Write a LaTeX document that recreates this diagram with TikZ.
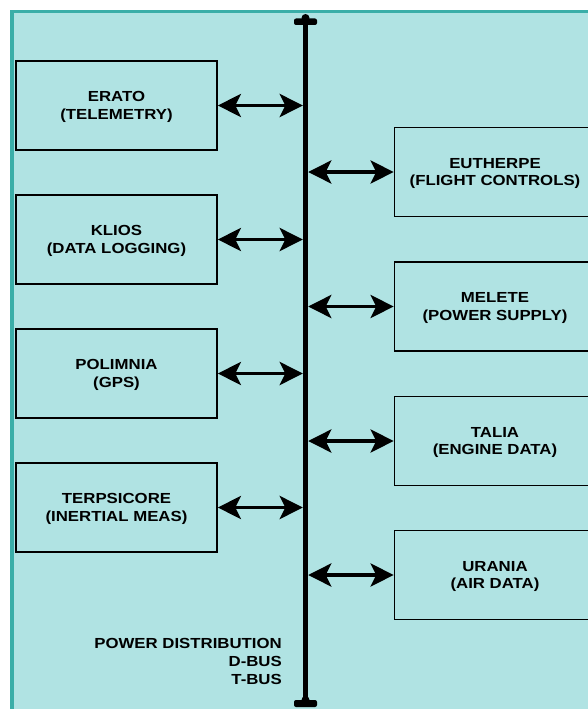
\documentclass[tikz,border=0pt]{standalone}
\usepackage{fontspec}
\setmainfont{Liberation Sans}[FakeStretch=1.15]
\usetikzlibrary{arrows.meta}
\definecolor{panel}{HTML}{B0E3E3}
\definecolor{panelrim}{HTML}{3AAEA8}
\newcommand{\unitfont}{\fontsize{14.6}{17.5}\selectfont\bfseries}
\newcommand{\buslabelfont}{\fontsize{14.6}{18}\selectfont\bfseries}
\tikzset{
  unit/.style={draw=black, line width=1.7pt, fill=panel, minimum width=201pt,
    minimum height=89pt, align=center, font=\unitfont, inner sep=0pt,
    text depth=0pt},
  link/.style={line width=3.8pt,
    {Stealth[length=23pt,width=23pt,inset=5.5pt]}-{Stealth[length=23pt,width=23pt,inset=5.5pt]}},
  busbar/.style={fill=black, draw=none, minimum width=5pt, inner sep=0pt}
}
\begin{document}
\begin{tikzpicture}[x=1pt,y=-1pt]
  \useasboundingbox (0,0) rectangle (588,709);
  \clip (0,0) rectangle (588,709);
  % panel
  \fill[white] (0,0) rectangle (588,709);
  \draw[panelrim, fill=panel, line width=3.6pt] (12,11.5) rectangle (640,740);

  % data bus with end caps
  \node[busbar, minimum height=682pt] (bus) at (305.5,361) {};
  \fill (305.5,18) circle (4);
  \fill[rounded corners=2pt] (294,18.5) rectangle (317,25);
  \fill (305.5,700) circle (4);
  \fill[rounded corners=2pt] (294,700) rectangle (317,707);

  % units on the left
  \node[unit] (erato) at (116.5,105.5) {ERATO\\(TELEMETRY)};
  \node[unit] (klios) at (116.5,239.5) {KLIOS\\(DATA LOGGING)};
  \node[unit] (polimnia) at (116.5,373.5) {POLIMNIA\\(GPS)};
  \node[unit] (terpsicore) at (116.5,507.5) {TERPSICORE\\(INERTIAL MEAS)};

  % units on the right
  \node[unit] (eutherpe) at (495,172) {EUTHERPE\\(FLIGHT CONTROLS)};
  \node[unit] (melete) at (495,306.5) {MELETE\\(POWER SUPPLY)};
  \node[unit] (talia) at (495,441) {TALIA\\(ENGINE DATA)};
  \node[unit] (urania) at (495,575) {URANIA\\(AIR DATA)};

  % bus links
  \foreach \u in {erato,klios,polimnia,terpsicore}
    \draw[link] (\u.east) -- (\u.east -| bus.west);
  \foreach \u in {eutherpe,melete,talia,urania}
    \draw[link] (\u.west -| bus.east) -- (\u.west);

  % bus label
  \node[font=\buslabelfont, align=right, anchor=north east, inner sep=0pt]
    (buslabel) at (282,638.5) {POWER DISTRIBUTION\\D-BUS\\T-BUS};
\end{tikzpicture}
\end{document}
